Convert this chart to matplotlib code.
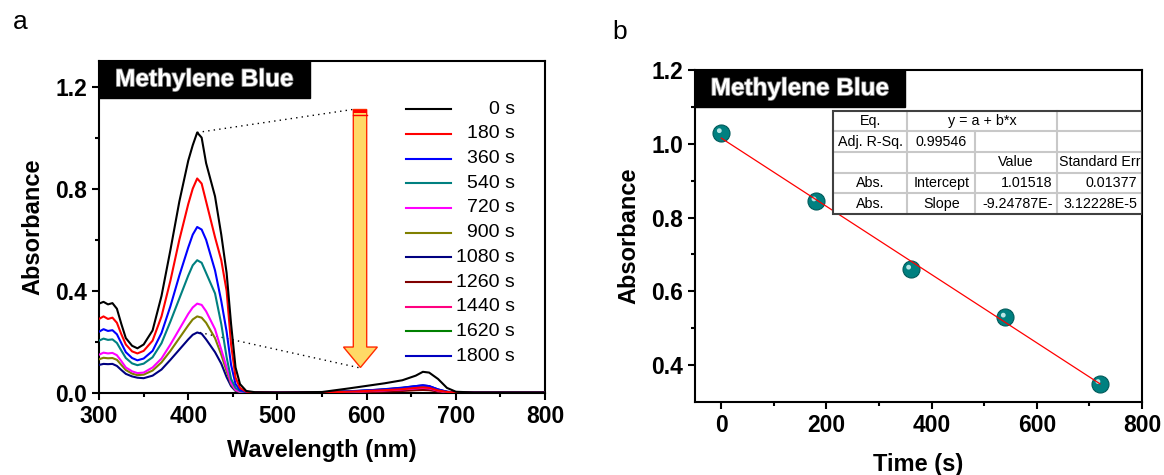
import numpy as np
import matplotlib
matplotlib.use("Agg")
import matplotlib.pyplot as plt
from matplotlib.patches import Rectangle, Polygon
from matplotlib.transforms import offset_copy
import matplotlib.patheffects as pe

plt.rcParams['font.family'] = ['Liberation Sans', 'DejaVu Sans']

# ---- panel a: UV-vis spectra ----
wl_head = [300, 305, 310, 315, 320, 325, 330, 337, 343, 350, 360, 370, 380, 390,
           400, 405, 410, 415, 420, 430, 437, 443, 448, 453, 458]
wl_tail = [465, 475, 500, 550, 580, 600, 620, 640, 655, 663, 670, 680, 690, 700, 720, 750, 800]
wl = wl_head + wl_tail

abs_0 = [0.35, 0.357, 0.347, 0.352, 0.33, 0.27, 0.215, 0.185, 0.175,
         0.19, 0.245, 0.38, 0.56, 0.75, 0.91, 0.97, 1.02, 1.00, 0.90, 0.77, 0.62, 0.47, 0.27, 0.10, 0.035,
         0.008, 0.003, 0.002, 0.004, 0.018, 0.028, 0.038, 0.05, 0.068, 0.083, 0.08, 0.055, 0.02, 0.005, 0.002, 0.002, 0.002]
abs_180 = [0.29, 0.30, 0.29, 0.295, 0.275, 0.23, 0.19, 0.163, 0.155,
           0.165, 0.205, 0.30, 0.44, 0.60, 0.74, 0.80, 0.84, 0.82, 0.75, 0.61, 0.52, 0.40, 0.19, 0.06, 0.02,
           0.005, 0.002, 0.001, 0.002, 0.005, 0.008, 0.011, 0.015, 0.02, 0.022, 0.02, 0.01, 0.004, 0.002, 0.001, 0.001, 0.001]
abs_360 = [0.24, 0.25, 0.243, 0.246, 0.23, 0.195, 0.16, 0.137, 0.128,
           0.135, 0.165, 0.235, 0.34, 0.46, 0.57, 0.62, 0.65, 0.64, 0.60, 0.48, 0.36, 0.24, 0.11, 0.035, 0.012,
           0.004, 0.002, 0.001, 0.002, 0.006, 0.01, 0.014, 0.02, 0.027, 0.03, 0.027, 0.014, 0.005, 0.002, 0.001, 0.001, 0.001]
abs_540 = [0.205, 0.213, 0.208, 0.21, 0.196, 0.166, 0.137, 0.116, 0.109,
           0.115, 0.14, 0.195, 0.28, 0.37, 0.46, 0.50, 0.52, 0.51, 0.47, 0.39, 0.27, 0.14, 0.055, 0.02, 0.008,
           0.003, 0.002, 0.001, 0.002, 0.006, 0.009, 0.013, 0.019, 0.025, 0.027, 0.024, 0.012, 0.004, 0.002, 0.001, 0.001, 0.001]
abs_720 = [0.15, 0.158, 0.155, 0.157, 0.148, 0.125, 0.10, 0.085, 0.078,
           0.08, 0.10, 0.135, 0.19, 0.25, 0.31, 0.335, 0.35, 0.345, 0.32, 0.25, 0.17, 0.10, 0.04, 0.012, 0.005,
           0.002, 0.002, 0.002, 0.003, 0.005, 0.007, 0.01, 0.014, 0.018, 0.02, 0.018, 0.009, 0.003, 0.002, 0.001, 0.001, 0.001]
abs_900 = [0.132, 0.138, 0.136, 0.137, 0.13, 0.11, 0.09, 0.076, 0.07,
           0.072, 0.088, 0.12, 0.165, 0.215, 0.265, 0.288, 0.30, 0.295, 0.275, 0.215, 0.15, 0.085, 0.035, 0.01, 0.004,
           0.002, 0.002, 0.002, 0.003, 0.006, 0.008, 0.011, 0.016, 0.02, 0.022, 0.02, 0.01, 0.004, 0.002, 0.001, 0.001, 0.001]
abs_1080 = [0.11, 0.114, 0.113, 0.114, 0.106, 0.09, 0.075, 0.065, 0.06,
            0.058, 0.068, 0.092, 0.13, 0.17, 0.21, 0.228, 0.237, 0.232, 0.21, 0.16, 0.115, 0.062, 0.027, 0.008, 0.003,
            0.002, 0.002, 0.002, 0.003, 0.007, 0.01, 0.015, 0.021, 0.027, 0.03, 0.027, 0.014, 0.005, 0.002, 0.002, 0.002, 0.002]
# later spectra only show up in the visible tail region
abs_1260 = [0.002, 0.001, 0.001, 0.001, 0.003, 0.004, 0.006, 0.008, 0.011, 0.012, 0.011, 0.006, 0.002, 0.001, 0.001, 0.001, 0.001]
abs_1440 = [0.002, 0.002, 0.002, 0.002, 0.004, 0.005, 0.008, 0.011, 0.014, 0.015, 0.014, 0.007, 0.003, 0.001, 0.001, 0.001, 0.001]
abs_1620 = [0.002, 0.002, 0.002, 0.002, 0.005, 0.007, 0.01, 0.014, 0.018, 0.02, 0.018, 0.009, 0.003, 0.002, 0.001, 0.001, 0.001]
abs_1800 = [0.003, 0.002, 0.002, 0.003, 0.006, 0.009, 0.012, 0.017, 0.022, 0.025, 0.022, 0.011, 0.004, 0.002, 0.002, 0.002, 0.002]

times = ['0 s', '180 s', '360 s', '540 s', '720 s', '900 s', '1080 s',
         '1260 s', '1440 s', '1620 s', '1800 s']
spectra = [abs_0, abs_180, abs_360, abs_540, abs_720, abs_900, abs_1080,
           abs_1260, abs_1440, abs_1620, abs_1800]
colors = ['#000000', '#FF0000', '#0000FF', '#008080', '#FF00FF', '#808000',
          '#000080', '#800000', '#FF0080', '#008000', '#0000C0']

# guide lines from the 0 s and 1080 s peaks to the arrow
guide_top_x, guide_top_y = [410, 584], [1.02, 1.11]
guide_bot_x, guide_bot_y = [413, 594], [0.237, 0.097]

# ---- panel b: kinetics ----
t = [0, 180, 360, 540, 720]
a_peak = [1.03, 0.845, 0.66, 0.53, 0.35]
intercept = 1.01518
slope = -9.24787e-4

fig = plt.figure(figsize=(11.64, 4.75), dpi=100)
ax1 = fig.add_axes([0.0851, 0.1726, 0.3832, 0.699])
ax2 = fig.add_axes([0.5971, 0.1537, 0.384, 0.699])

for ax in (ax1, ax2):
    for s in ax.spines.values():
        s.set_linewidth(1.5)
    ax.tick_params(which='major', direction='out', length=5, width=1.5, labelsize=16.5)
    ax.tick_params(which='minor', direction='out', length=3, width=1.5)

# spectra
for i, (lab, y, c) in enumerate(zip(times, spectra, colors)):
    x = wl if len(y) == len(wl) else wl_tail
    ax1.plot(x, y, color=c, lw=1.5, zorder=3 + (10 - i) * 0.01)

ax1.plot(guide_top_x, guide_top_y, ls=(0, (1, 3)), color='k', lw=1)
ax1.plot(guide_bot_x, guide_bot_y, ls=(0, (1, 3)), color='k', lw=1)

# big down arrow
arrow = Polygon([(585, 1.11), (600, 1.11), (600, 0.18), (612, 0.18), (593, 0.10),
                 (574, 0.18), (585, 0.18)], closed=True, facecolor='#FFD966',
                edgecolor='#FF2A00', lw=1, zorder=4)
ax1.add_patch(arrow)
ax1.add_patch(Rectangle((585, 1.098), 15, 0.012, facecolor='#FF0000', edgecolor='none', zorder=5))
ax1.plot([585, 600], [1.088, 1.088], color='#FF0000', lw=1, zorder=5)

ax1.set_xlim(300, 800)
ax1.set_ylim(0, 1.3)
ax1.set_xticks(np.arange(300, 801, 100))
ax1.set_xticks(np.arange(350, 800, 100), minor=True)
ax1.set_yticks([0.0, 0.4, 0.8, 1.2])
ax1.set_yticks([0.2, 0.6, 1.0], minor=True)
ax1.set_yticklabels(['0.0', '0.4', '0.8', '1.2'], fontweight='bold')
ax1.set_xticklabels([str(v) for v in range(300, 801, 100)], fontweight='bold')
ax1.set_xlabel('Wavelength (nm)', fontsize=17, fontweight='bold', labelpad=8)
ax1.set_ylabel('Absorbance', fontsize=17, fontweight='bold', labelpad=8)

# legend drawn by hand (labels right aligned)
for i, (lab, c) in enumerate(zip(times, colors)):
    yy = 0.855 - i * 0.0744
    ax1.plot([0.688, 0.789], [yy, yy], color=c, lw=1.5, transform=ax1.transAxes)
    ax1.text(0.933, yy, lab, transform=ax1.transAxes, ha='right', va='center', fontsize=14)

shadow = [pe.withStroke(linewidth=1.2, foreground='#808080')]
for ax, w in ((ax1, 0.473), (ax2, 0.47)):
    ax.add_patch(Rectangle((0, 0.889), w, 0.111, transform=ax.transAxes,
                           facecolor='black', edgecolor='black', zorder=6, clip_on=False))
    ax.text(w / 2, 0.944, 'Methylene Blue', transform=ax.transAxes, ha='center', va='center',
            color='white', fontsize=17.5, fontweight='bold', zorder=7, path_effects=shadow)

# kinetics
tt = np.array([0, 720])
ax2.scatter(t, a_peak, s=150, color='#008080', edgecolor='#005a5a', lw=0.8, zorder=3)
hl = offset_copy(ax2.transData, fig=fig, x=-2, y=2, units='dots')
ax2.scatter(t, a_peak, s=12, color='#b8e6e6', edgecolor='none', zorder=4, transform=hl)
ax2.plot(tt, intercept + slope * tt, color='#FF0000', lw=0.9, zorder=5)

ax2.set_xlim(-50, 800)
ax2.set_ylim(0.3, 1.2)
ax2.set_xticks([0, 200, 400, 600, 800])
ax2.set_xticks([100, 300, 500, 700], minor=True)
ax2.set_yticks([0.4, 0.6, 0.8, 1.0, 1.2])
ax2.set_yticks([0.5, 0.7, 0.9, 1.1], minor=True)
ax2.set_xticklabels(['0', '200', '400', '600', '800'], fontweight='bold')
ax2.set_yticklabels(['0.4', '0.6', '0.8', '1.0', '1.2'], fontweight='bold')
ax2.set_xlabel('Time (s)', fontsize=17, fontweight='bold', labelpad=12)
ax2.set_ylabel('Absorbance', fontsize=17, fontweight='bold', labelpad=8)

# fit result table
cols = [0.309, 0.475, 0.627, 0.810, 1.0]
rows = [0.877 - k * 0.0622 for k in range(6)]
cells = [['Eq.', 'y = a + b*x', None, ''],
         ['Adj. R-Sq.', '0.99546', '', ''],
         ['', '', 'Value', 'Standard Err'],
         ['Abs.', 'Intercept', '1.01518', '0.01377'],
         ['Abs.', 'Slope', '-9.24787E-', '3.12228E-5']]
ax2.add_patch(Rectangle((cols[0], rows[-1]), cols[-1] - cols[0], rows[0] - rows[-1],
                        transform=ax2.transAxes, facecolor='white', edgecolor='none', zorder=6))
for r in rows[1:-1]:
    ax2.plot([cols[0], cols[-1]], [r, r], color='#c8c8c8', lw=1.5, transform=ax2.transAxes, zorder=7)
for j, cx in enumerate(cols[1:-1]):
    top = rows[1] if j == 1 else rows[0]
    ax2.plot([cx, cx], [rows[-1], top], color='#c8c8c8', lw=1.5, transform=ax2.transAxes, zorder=7)
ax2.add_patch(Rectangle((cols[0], rows[-1]), cols[-1] - cols[0], rows[0] - rows[-1],
                        transform=ax2.transAxes, facecolor='none', edgecolor='#404040', lw=1.5, zorder=8))
for i, row in enumerate(cells):
    yc = (rows[i] + rows[i + 1]) / 2
    for j, txt in enumerate(row):
        if not txt:
            continue
        if i == 0 and j == 1:
            xc, ha = (cols[1] + cols[3]) / 2, 'center'
        elif i >= 3 and j >= 2:
            xc, ha = cols[j + 1] - 0.01, 'right'
        else:
            xc, ha = (cols[j] + cols[j + 1]) / 2, 'center'
        ax2.text(xc, yc, txt, transform=ax2.transAxes, ha=ha, va='center',
                 fontsize=10.3, zorder=9)

fig.text(20 / 1164, 1 - 22 / 475, 'a', fontsize=19, ha='center', va='center')
fig.text(620 / 1164, 1 - 32 / 475, 'b', fontsize=19, ha='center', va='center')

fig.savefig('out.png', dpi=100)
